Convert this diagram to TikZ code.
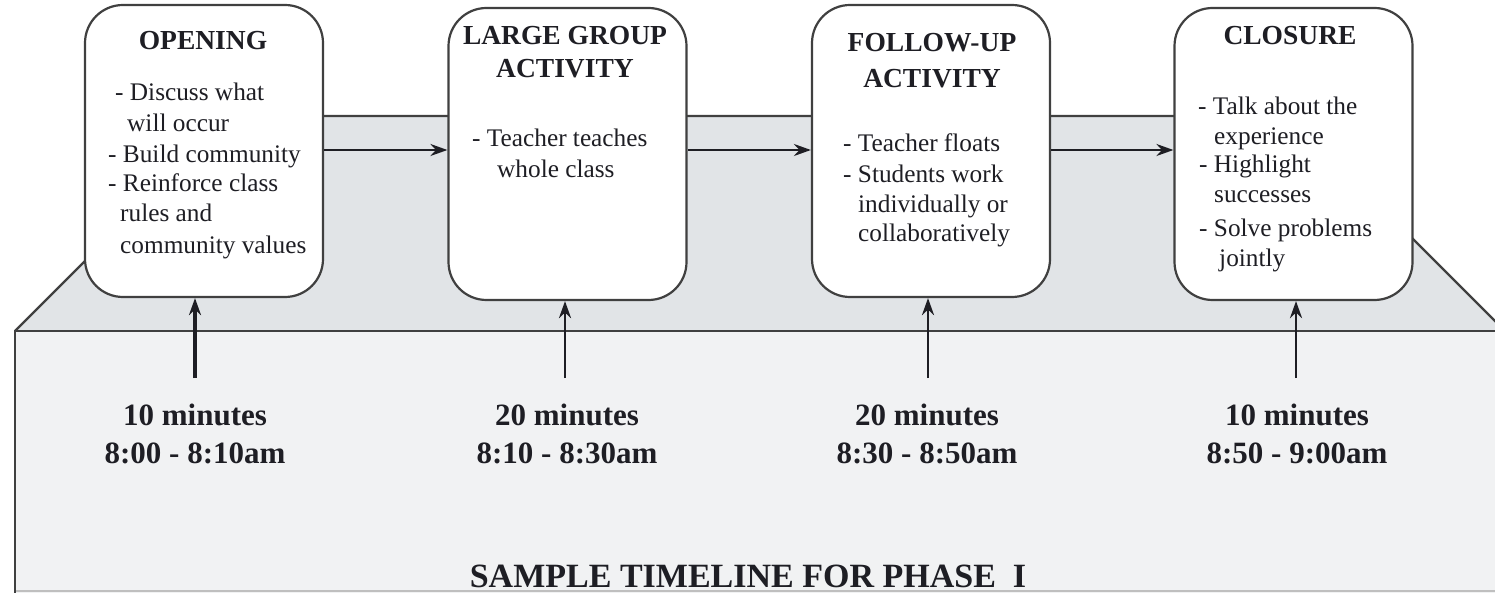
\documentclass[tikz,border=0pt]{standalone}
\usepackage{fontspec}
\setmainfont{Liberation Serif}
\usetikzlibrary{arrows.meta}
\definecolor{topface}{HTML}{E1E4E7}
\definecolor{frontface}{HTML}{F1F2F3}
\definecolor{edge}{HTML}{404040}
\definecolor{ink}{HTML}{1E1E24}
\begin{document}
\begin{tikzpicture}[x=1pt,y=-1pt,
  stagebox/.style={draw=edge, line width=2.2pt, fill=white, rounded corners=38pt,
    minimum width=238pt, minimum height=292pt, inner sep=0pt},
  ttl/.style={font=\fontsize{27.5}{33}\selectfont\bfseries, text=ink, inner sep=0pt, anchor=base},
  body/.style={font=\fontsize{25.3}{30}\selectfont, text=ink, inner sep=0pt, anchor=base west},
  timelbl/.style={font=\fontsize{31}{38}\selectfont\bfseries, text=ink, inner sep=0pt, anchor=base},
  flow/.style={draw=ink, line width=2.2pt, -{Stealth[length=17pt,width=12pt]}},
  uparr/.style={draw=ink, line width=2.8pt, -{Stealth[length=17pt,width=12pt]}},
  edgeline/.style={draw=edge, line width=2.4pt, line join=miter}
]
\useasboundingbox (0,0) rectangle (1495,593);
\begin{scope}
  \clip (0,0) rectangle (1495,593);
  % top face of the platform
  \fill[topface] (15,331) -- (230,116) -- (1290,116) -- (1505,331) -- cycle;
  \draw[edgeline] (15,331) -- (230,116) -- (1290,116) -- (1505,331);
  % front face
  \fill[frontface] (15,331) rectangle (1505,600);
  \draw[draw=black!25, line width=1.5pt] (15,591) -- (1505,591);
  \draw[edgeline, line width=2.8pt] (15,600) -- (15,331) -- (1505,331);
\end{scope}

% stage boxes
\node[stagebox] (b1) at (204,151) {};
\node[stagebox] (b2) at (567.5,154) {};
\node[stagebox] (b3) at (931,151) {};
\node[stagebox] (b4) at (1293.5,154) {};

% titles
\node[ttl] (t1) at (203,50) {OPENING};
\node[ttl] (t2a) at (565,45) {LARGE GROUP};
\node[ttl] (t2b) at (565,78) {ACTIVITY};
\node[ttl] (t3a) at (932,52) {FOLLOW-UP};
\node[ttl] (t3b) at (932,88) {ACTIVITY};
\node[ttl] (t4) at (1290,45) {CLOSURE};

% bodies
\node[body] (o1) at (115,101) {- Discuss what};
\node[body] (o2) at (127,132) {will occur};
\node[body] (o3) at (108,163) {- Build community};
\node[body] (o4) at (108,192) {- Reinforce class};
\node[body] (o5) at (120,222) {rules and};
\node[body] (o6) at (120,254) {community values};

\node[body] (l1) at (472,147) {- Teacher teaches};
\node[body] (l2) at (497,178) {whole class};

\node[body] (f1) at (843,152) {- Teacher floats};
\node[body] (f2) at (843,183) {- Students work};
\node[body] (f3) at (858,213) {individually or};
\node[body] (f4) at (858,242) {collaboratively};

\node[body] (c1) at (1198,115) {- Talk about the};
\node[body] (c2) at (1214,145) {experience};
\node[body] (c3) at (1199,173) {- Highlight};
\node[body] (c4) at (1214,203) {successes};
\node[body] (c5) at (1199,237) {- Solve problems};
\node[body] (c6) at (1219,267) {jointly};

% horizontal flow arrows
\coordinate (fy) at (0,150);
\draw[flow] (b1.east |- fy) -- (b2.west |- fy);
\draw[flow] (b2.east |- fy) -- (b3.west |- fy);
\draw[flow] (b3.east |- fy) -- (b4.west |- fy);

% time labels
\node[timelbl] (m1a) at (195,425) {10 minutes};
\node[timelbl] (m1b) at (195,463) {8:00 - 8:10am};
\node[timelbl] (m2a) at (567,425) {20 minutes};
\node[timelbl] (m2b) at (567,463) {8:10 - 8:30am};
\node[timelbl] (m3a) at (927,425) {20 minutes};
\node[timelbl] (m3b) at (927,463) {8:30 - 8:50am};
\node[timelbl] (m4a) at (1297,425) {10 minutes};
\node[timelbl] (m4b) at (1297,463) {8:50 - 9:00am};

% vertical arrows
\coordinate (u1) at (195,378);
\coordinate (u2) at (565,378);
\coordinate (u3) at (928,378);
\coordinate (u4) at (1296,378);
\draw[uparr, line width=3.6pt] (u1) -- (u1 |- b1.south);
\draw[uparr] (u2) -- (u2 |- b2.south);
\draw[uparr] (u3) -- (u3 |- b3.south);
\draw[uparr] (u4) -- (u4 |- b4.south);

% caption
\node[font=\fontsize{34}{40}\selectfont\bfseries, text=ink, inner sep=0pt, anchor=base] (cap) at (748,587) {SAMPLE TIMELINE FOR PHASE\ \ I};
\end{tikzpicture}
\end{document}
